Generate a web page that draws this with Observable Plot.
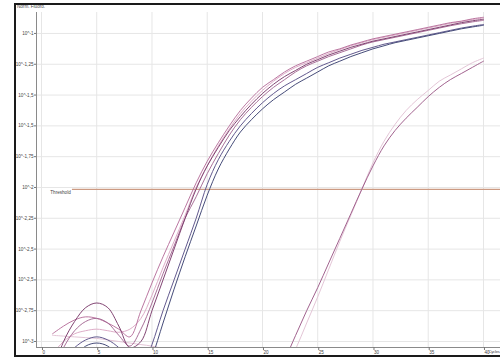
<!DOCTYPE html>
<html><head><meta charset="utf-8">
<script src="https://cdn.jsdelivr.net/npm/d3@7"></script>
<script src="https://cdn.jsdelivr.net/npm/@observablehq/plot@0.6"></script>
<style>
html,body{margin:0;padding:0;background:#fff;}
#wrap{position:relative;width:500px;height:358px;overflow:hidden;font-family:"Liberation Sans",Arial,sans-serif;}
#frame{position:absolute;left:14px;top:3px;width:500px;height:350px;border:2px solid #1a1a1a;border-right:none;pointer-events:none;}
.lbl{position:absolute;font-size:4.6px;color:#444;white-space:nowrap;line-height:1;}
#chart{position:absolute;left:0;top:0;}
</style></head><body>
<div id="wrap">
  <div id="chart"></div>
  <div class="lbl" style="left:17px;top:5px">Norm. Fluoro.</div>
  <div class="lbl" style="left:488.5px;top:350px;font-size:4.2px;letter-spacing:-0.25px">Cycles</div>
  <div id="frame"></div>
</div>
<script>
// ---- data (values are log10 of normalized fluorescence) ----
const cycles = [1,2,3,4,5,6,7,8,9,10,11,12,13,14,15,16,17,18,19,20,21,22,23,24,25,26,27,28,29,30,31,32,33,34,35,36,37,38,39,40];
const xTicks = [0,5,10,15,20,25,30,35,40];
const xTickLabels = ["0","5","10","15","20","25","30","35","40"];
const yTickExps = [-1,-1.2,-1.4,-1.6,-1.8,-2,-2.2,-2.4,-2.6,-2.8,-3];
const yTickLabels = ["10^-1","10^-1,25","10^-1,5","10^-1,5","10^-1,75","10^-2","10^-2,25","10^-2,5","10^-2,5","10^-2,75","10^-3"];
const thresholdExp = -2.013;
const thresholdStart = 2.8;
const thresholdLabel = "Threshold";

const seriesNames = ["L_light","E2","L_purple","E1","E4","E3","E5","E6"];
const seriesColors = ["#e2c2d4","#dba8c4","#9c5a88","#b7709c","#a46894","#7a3a6a","#5a5088","#3c4272"];

const L_light = [-2.96,-2.965,-2.97,-2.975,-2.98,-2.99,-3.0,-3.01,-3.02,-3.03,-3.045,-3.06,-3.09,-3.12,-3.15,-3.18,-3.2,-3.22,-3.24,-3.25,-3.24,-3.2,-3.05,-2.88,-2.71,-2.53,-2.35,-2.18,-2.01,-1.84,-1.7,-1.59,-1.5,-1.43,-1.37,-1.31,-1.27,-1.23,-1.19,-1.16];
const E2 = [-3.08,-3.0,-2.95,-2.93,-2.92,-2.93,-2.94,-2.92,-2.85,-2.7,-2.52,-2.35,-2.18,-2.0,-1.86,-1.73,-1.62,-1.52,-1.44,-1.37,-1.31,-1.26,-1.22,-1.19,-1.16,-1.13,-1.105,-1.08,-1.06,-1.04,-1.025,-1.01,-0.995,-0.98,-0.965,-0.95,-0.935,-0.922,-0.91,-0.9];
const L_purple = [-3.32,-3.31,-3.33,-3.3,-3.32,-3.31,-3.3,-3.32,-3.33,-3.31,-3.3,-3.32,-3.31,-3.3,-3.32,-3.31,-3.3,-3.31,-3.29,-3.25,-3.19,-3.11,-2.96,-2.8,-2.65,-2.49,-2.33,-2.17,-2.01,-1.86,-1.73,-1.63,-1.55,-1.48,-1.41,-1.35,-1.3,-1.26,-1.22,-1.18];
const E1 = [-2.95,-2.9,-2.86,-2.84,-2.85,-2.88,-2.92,-2.97,-2.8,-2.62,-2.45,-2.29,-2.13,-1.97,-1.83,-1.71,-1.6,-1.5,-1.42,-1.35,-1.3,-1.25,-1.21,-1.18,-1.15,-1.12,-1.1,-1.075,-1.055,-1.035,-1.02,-1.005,-0.99,-0.975,-0.96,-0.945,-0.93,-0.92,-0.905,-0.895];
const E4 = [-3.2,-3.04,-2.93,-2.87,-2.85,-2.88,-2.96,-3.03,-2.92,-2.75,-2.56,-2.38,-2.2,-2.06,-1.91,-1.78,-1.66,-1.56,-1.48,-1.41,-1.35,-1.3,-1.25,-1.21,-1.18,-1.15,-1.125,-1.1,-1.075,-1.055,-1.04,-1.025,-1.01,-0.995,-0.98,-0.965,-0.95,-0.937,-0.925,-0.915];
const E3 = [-3.2,-3.0,-2.87,-2.78,-2.75,-2.78,-2.9,-3.04,-3.0,-2.8,-2.6,-2.4,-2.2,-2.01,-1.86,-1.74,-1.63,-1.54,-1.46,-1.39,-1.33,-1.28,-1.24,-1.2,-1.17,-1.14,-1.115,-1.09,-1.07,-1.05,-1.035,-1.02,-1.005,-0.99,-0.975,-0.96,-0.945,-0.93,-0.918,-0.908];
const E5 = [-3.2,-3.12,-3.04,-2.99,-2.97,-2.99,-3.04,-3.12,-3.2,-3.02,-2.8,-2.6,-2.4,-2.2,-1.98,-1.82,-1.7,-1.6,-1.52,-1.45,-1.39,-1.34,-1.3,-1.26,-1.22,-1.19,-1.16,-1.135,-1.11,-1.09,-1.07,-1.055,-1.04,-1.025,-1.01,-0.995,-0.98,-0.965,-0.953,-0.942];
const E6 = [-3.3,-3.2,-3.1,-3.03,-3.01,-3.03,-3.1,-3.2,-3.25,-3.1,-2.88,-2.66,-2.45,-2.25,-2.05,-1.88,-1.75,-1.64,-1.56,-1.49,-1.43,-1.38,-1.33,-1.29,-1.25,-1.21,-1.18,-1.15,-1.125,-1.1,-1.08,-1.06,-1.045,-1.03,-1.015,-1.0,-0.985,-0.97,-0.958,-0.947];

const seriesValues = {L_light, E2, L_purple, E1, E4, E3, E5, E6};
const xDomain = [-0.45, 41.54];
const yDomainExp = [-3.039, -0.864];

// ---- build table (y is the log10 exponent on a linear scale = log axis) ----
const rows = [];
for (const name of seriesNames) {
  seriesValues[name].forEach((e, i) => rows.push({series: name, cycle: cycles[i], exp: e}));
}
const yLabelOf = new Map(yTickExps.map((v, i) => [v, yTickLabels[i]]));
const xLabelOf = new Map(xTicks.map((v, i) => [v, xTickLabels[i]]));

const chart = Plot.plot({
  width: 500,
  height: 358,
  marginLeft: 36,
  marginRight: 0,
  marginTop: 12,
  marginBottom: 11,
  style: {fontFamily: "'Liberation Sans', Arial, sans-serif", fontSize: "4.6px", color: "#555", background: "transparent"},
  x: {domain: xDomain, label: null},
  y: {domain: yDomainExp, label: null},
  color: {domain: seriesNames, range: seriesColors},
  marks: [
    Plot.gridX({ticks: xTicks, stroke: "#e6e6e6", strokeOpacity: 1}),
    Plot.gridY({ticks: yTickExps, stroke: "#e6e6e6", strokeOpacity: 1}),
    Plot.ruleY([{y: thresholdExp, x1: thresholdStart, x2: xDomain[1]}], {y: "y", x1: "x1", x2: "x2", stroke: "#cc9a82", strokeWidth: 1.3}),
    Plot.text([{x: 0.8, y: thresholdExp, t: thresholdLabel}], {x: "x", y: "y", text: "t", textAnchor: "start", dy: 3.2, fill: "#444", fontSize: 4.6}),
    Plot.line(rows, {x: "cycle", y: "exp", z: "series", stroke: "series", strokeWidth: 0.95, curve: "catmull-rom", clip: true}),
    Plot.ruleX([xDomain[0]], {stroke: "#8a8a8a"}),
    Plot.ruleY([yDomainExp[0]], {stroke: "#8a8a8a"}),
    Plot.axisX({ticks: xTicks, tickFormat: d => xLabelOf.get(d), tickSize: 3, tickPadding: 0, textAnchor: "start", dx: 1, stroke: "#777", fill: "#444", fontSize: 4.6}),
    Plot.axisY({ticks: yTickExps, tickFormat: d => yLabelOf.get(d), tickSize: 2, tickPadding: 1, stroke: "#777", fill: "#444", fontSize: 4.6})
  ]
});
document.getElementById("chart").appendChild(chart);
</script>
</body></html>
